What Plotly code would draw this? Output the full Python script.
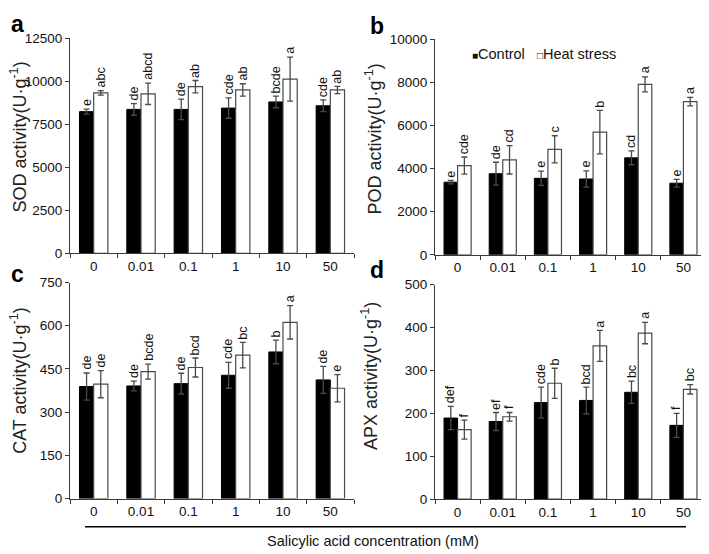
import plotly.graph_objects as go

categories = ["0", "0.01", "0.1", "1", "10", "50"]

# SOD (panel a)
sod_ctrl = [8240, 8370, 8370, 8445, 8805, 8580]
sod_ctrl_err = [150, 340, 600, 590, 340, 340]
sod_heat = [9330, 9275, 9690, 9500, 10125, 9500]
sod_heat_err = [130, 620, 360, 360, 1280, 210]
sod_ctrl_lbl = ["e", "de", "de", "cde", "bcde", "cde"]
sod_heat_lbl = ["abc", "abcd", "ab", "ab", "a", "ab"]

# POD (panel b)
pod_ctrl = [3370, 3765, 3550, 3520, 4500, 3325]
pod_ctrl_err = [80, 530, 330, 380, 320, 180]
pod_heat = [4140, 4410, 4895, 5690, 7910, 7110]
pod_heat_err = [400, 660, 630, 1010, 350, 200]
pod_ctrl_lbl = ["e", "de", "e", "e", "cd", "e"]
pod_heat_lbl = ["cde", "cd", "c", "b", "a", "a"]

# CAT (panel c)
cat_ctrl = [389, 391, 399, 428, 509, 412]
cat_ctrl_err = [47, 17, 36, 45, 41, 47]
cat_heat = [397, 441, 455, 498, 612, 383]
cat_heat_err = [47, 26, 33, 44, 58, 47]
cat_ctrl_lbl = ["de", "de", "de", "cde", "b", "de"]
cat_heat_lbl = ["de", "bcde", "bcd", "bc", "a", "e"]

# APX (panel d)
apx_ctrl = [189, 181, 225, 230, 249, 172]
apx_ctrl_err = [27, 21, 36, 31, 26, 28]
apx_heat = [162, 192, 270, 357, 387, 256]
apx_heat_err = [22, 10, 35, 36, 25, 11]
apx_ctrl_lbl = ["def", "ef", "cde", "bcd", "bc", "f"]
apx_heat_lbl = ["f", "f", "b", "a", "a", "bc"]

y_titles = ["SOD activity(U·g<sup>-1</sup>)", "POD activity(U·g<sup>-1</sup>)",
            "CAT activity(U·g<sup>-1</sup>)", "APX activity(U·g<sup>-1</sup>)"]
panel_letters = ["a", "b", "c", "d"]
y_ranges = [12500, 10000, 750, 500]
y_dticks = [2500, 2000, 150, 100]

W, H = 709, 554
FONT = "Arial, Liberation Sans, sans-serif"
AXC = "#3a3a3a"

panels = [
    (sod_ctrl, sod_ctrl_err, sod_heat, sod_heat_err, sod_ctrl_lbl, sod_heat_lbl),
    (pod_ctrl, pod_ctrl_err, pod_heat, pod_heat_err, pod_ctrl_lbl, pod_heat_lbl),
    (cat_ctrl, cat_ctrl_err, cat_heat, cat_heat_err, cat_ctrl_lbl, cat_heat_lbl),
    (apx_ctrl, apx_ctrl_err, apx_heat, apx_heat_err, apx_ctrl_lbl, apx_heat_lbl),
]

# pixel layout of the plotting areas: (x_left, x_right, y_top, y_bottom)
boxes = [(62, 346, 24, 245), (427, 698, 25, 246.5), (62, 346, 275, 497), (427, 698, 277, 497.7)]

fig = go.Figure()
annotations = []
layout = {}

for i, (c, ce, h, he, cl, hl) in enumerate(panels):
    n = "" if i == 0 else str(i + 1)
    xa, ya = "x" + n, "y" + n
    fig.add_trace(go.Bar(
        x=categories, y=c, xaxis=xa, yaxis=ya, name="Control", showlegend=False,
        marker=dict(color="black", line=dict(color="black", width=1)),
        error_y=dict(type="data", array=ce, color="#4a4a4a", thickness=1.3, width=3),
    ))
    fig.add_trace(go.Bar(
        x=categories, y=h, xaxis=xa, yaxis=ya, name="Heat stress", showlegend=False,
        marker=dict(color="white", line=dict(color="#4a4a4a", width=1.2)),
        error_y=dict(type="data", array=he, color="#4a4a4a", thickness=1.3, width=3),
    ))
    x0, x1, yt, yb = boxes[i]
    band = (x1 - x0) / len(categories)
    off = band * 0.6 / 4
    layout["xaxis" + n] = dict(
        domain=[x0 / W, x1 / W], anchor=ya, type="category", range=[-0.5, 5.5],
        showline=True, linecolor=AXC, linewidth=1.2, ticks="outside", ticklen=4,
        tickcolor=AXC, tickson="boundaries", tickfont=dict(size=13.5, color="#111", family=FONT),
        showgrid=False, zeroline=False, fixedrange=True,
    )
    layout["yaxis" + n] = dict(
        domain=[1 - yb / H, 1 - yt / H], anchor=xa, range=[0, y_ranges[i]], dtick=y_dticks[i],
        tickformat="d",
        showline=True, linecolor=AXC, linewidth=1.2, ticks="outside", ticklen=4,
        tickcolor=AXC, tickfont=dict(size=13.5, color="#111", family=FONT),
        showgrid=False, zeroline=False, fixedrange=True,
    )
    for j in range(len(categories)):
        annotations.append(dict(
            x=j, y=c[j] + ce[j], xref=xa, yref=ya, text=cl[j], showarrow=False,
            textangle=-90, xanchor="center", yanchor="bottom", xshift=-off, yshift=1,
            font=dict(size=12.5, color="#111", family=FONT)))
        annotations.append(dict(
            x=j, y=h[j] + he[j], xref=xa, yref=ya, text=hl[j], showarrow=False,
            textangle=-90, xanchor="center", yanchor="bottom", xshift=off, yshift=1,
            font=dict(size=12.5, color="#111", family=FONT)))

# y-axis titles
title_pos = [(11, 126), (366, 128), (11, 376), (362, 371)]
for (tx, ty), t in zip(title_pos, y_titles):
    annotations.append(dict(
        x=tx / W, y=1 - ty / H, xref="paper", yref="paper", text=t, showarrow=False,
        textangle=-90, xanchor="center", yanchor="middle",
        font=dict(size=18, color="#222", family=FONT)))

# panel letters
letter_pos = [(9, 9), (369, 11), (9, 266), (369, 262)]
for (lx, ly), t in zip(letter_pos, panel_letters):
    annotations.append(dict(
        x=lx / W, y=1 - ly / H, xref="paper", yref="paper", text="<b>" + t + "</b>",
        showarrow=False, xanchor="center", yanchor="middle",
        font=dict(size=23, color="black", family=FONT)))

# legend
annotations.append(dict(
    x=462 / W, y=1 - 40 / H, xref="paper", yref="paper", showarrow=False,
    xanchor="left", yanchor="middle",
    text="<span style='font-size:10px'>■</span>Control   <span style='font-size:10px'>□</span>Heat stress",
    font=dict(size=14.5, color="#111", family=FONT)))

# x title
annotations.append(dict(
    x=365 / W, y=1 - 541 / H, xref="paper", yref="paper", showarrow=False,
    xanchor="center", yanchor="middle", text="Salicylic acid concentration (mM)",
    font=dict(size=14.5, color="#111", family=FONT)))

fig.update_layout(
    width=W, height=H, margin=dict(l=0, r=0, t=0, b=0),
    paper_bgcolor="white", plot_bgcolor="white",
    barmode="group", bargap=0.4, bargroupgap=0,
    annotations=annotations,
    shapes=[dict(type="line", xref="paper", yref="paper", x0=77 / W, x1=678 / W,
                 y0=1 - 526 / H, y1=1 - 526 / H, line=dict(color="black", width=1.5))],
    font=dict(family=FONT),
    **layout,
)

fig.write_html("out.html")
